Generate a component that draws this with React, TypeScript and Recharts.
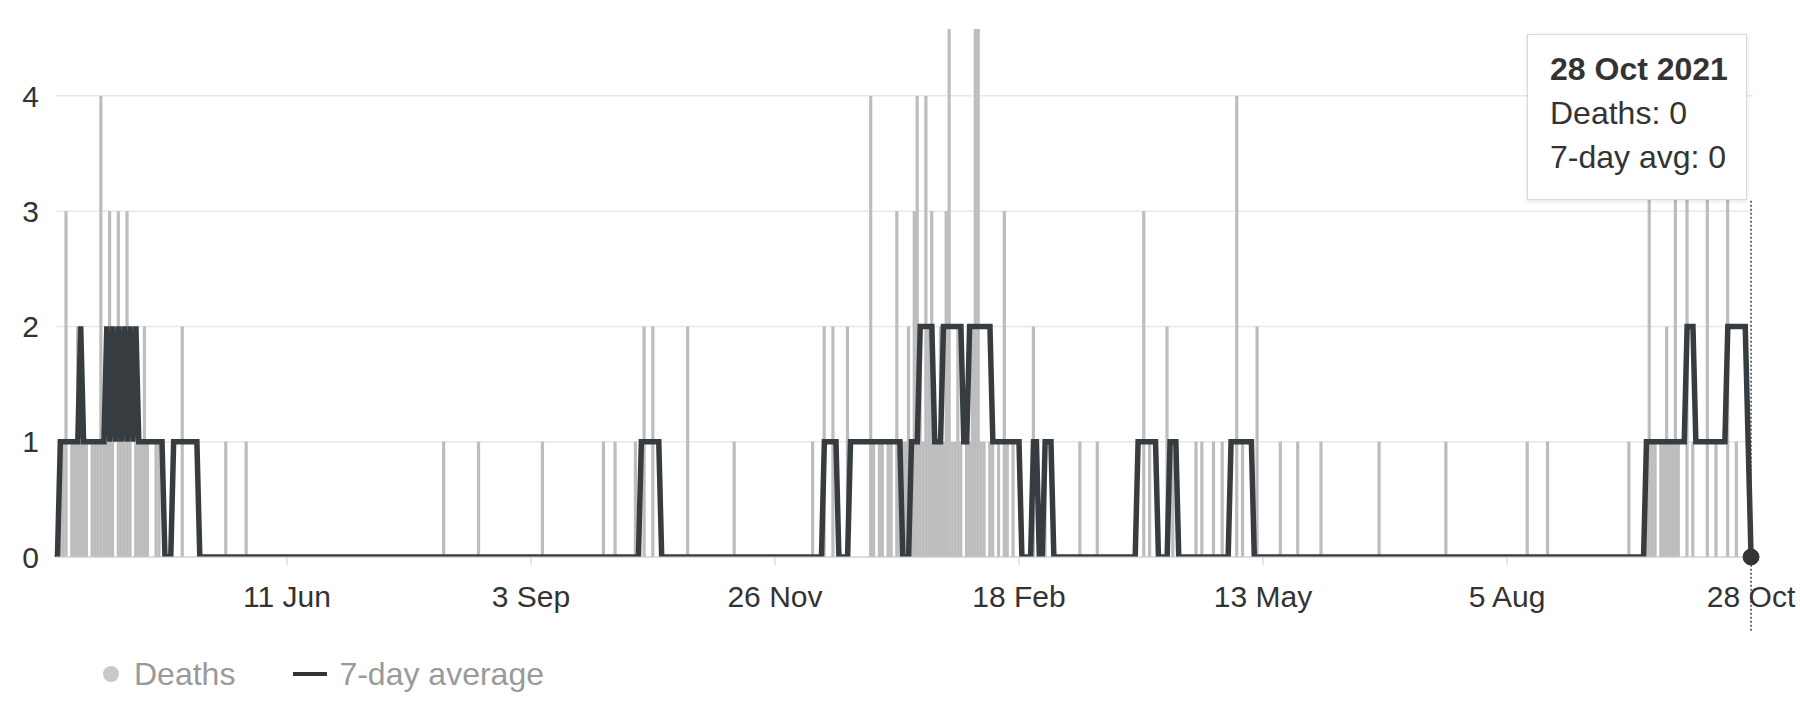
import React from "react";
import {
  ComposedChart, Bar, Line, XAxis, YAxis, CartesianGrid, Tooltip, ReferenceLine, ReferenceDot,
} from "recharts";

const START_DATE = "2020-03-24";
const END_DATE = "2021-10-28";

// days with deaths, every other day in the range is 0
const DEATHS: [string, number][] = [
  ["2020-03-25", 1], ["2020-03-26", 1], ["2020-03-27", 3], ["2020-03-29", 1], ["2020-03-30", 1], ["2020-03-31", 2],
  ["2020-04-01", 1], ["2020-04-02", 1], ["2020-04-03", 1], ["2020-04-05", 1], ["2020-04-06", 1], ["2020-04-07", 1],
  ["2020-04-08", 4], ["2020-04-09", 1], ["2020-04-10", 1], ["2020-04-11", 3], ["2020-04-12", 1], ["2020-04-14", 3],
  ["2020-04-15", 1], ["2020-04-16", 1], ["2020-04-17", 3], ["2020-04-18", 1], ["2020-04-20", 1], ["2020-04-21", 1],
  ["2020-04-22", 1], ["2020-04-23", 2], ["2020-04-24", 1], ["2020-04-27", 1], ["2020-04-28", 1],
  ["2020-05-06", 2], ["2020-05-21", 1], ["2020-05-28", 1],
  ["2020-08-04", 1], ["2020-08-16", 1],
  ["2020-09-07", 1], ["2020-09-28", 1],
  ["2020-10-02", 1], ["2020-10-09", 1], ["2020-10-12", 2], ["2020-10-15", 2], ["2020-10-27", 2],
  ["2020-11-12", 1],
  ["2020-12-09", 1], ["2020-12-13", 2], ["2020-12-16", 2], ["2020-12-21", 2], ["2020-12-29", 4], ["2020-12-30", 1],
  ["2021-01-01", 1], ["2021-01-02", 1], ["2021-01-04", 1], ["2021-01-05", 1], ["2021-01-07", 3], ["2021-01-08", 1],
  ["2021-01-09", 1], ["2021-01-10", 1], ["2021-01-11", 2], ["2021-01-12", 1], ["2021-01-13", 3], ["2021-01-14", 4],
  ["2021-01-15", 2], ["2021-01-16", 1], ["2021-01-17", 4], ["2021-01-18", 2], ["2021-01-19", 3], ["2021-01-20", 1],
  ["2021-01-21", 1], ["2021-01-22", 2], ["2021-01-23", 1], ["2021-01-24", 3], ["2021-01-25", 5], ["2021-01-26", 1],
  ["2021-01-27", 1], ["2021-01-28", 2], ["2021-01-29", 1], ["2021-01-31", 1],
  ["2021-02-01", 1], ["2021-02-02", 2], ["2021-02-03", 5], ["2021-02-04", 5], ["2021-02-05", 1], ["2021-02-06", 1],
  ["2021-02-08", 1], ["2021-02-09", 1], ["2021-02-11", 1], ["2021-02-13", 3], ["2021-02-14", 1], ["2021-02-16", 1],
  ["2021-02-23", 2], ["2021-02-27", 1],
  ["2021-03-11", 1], ["2021-03-17", 1],
  ["2021-04-02", 3], ["2021-04-04", 1], ["2021-04-10", 2], ["2021-04-12", 1], ["2021-04-20", 1], ["2021-04-22", 1],
  ["2021-04-26", 1], ["2021-04-29", 1],
  ["2021-05-04", 4], ["2021-05-06", 1], ["2021-05-11", 2], ["2021-05-19", 1], ["2021-05-25", 1],
  ["2021-06-02", 1], ["2021-06-22", 1],
  ["2021-07-15", 1],
  ["2021-08-12", 1], ["2021-08-19", 1],
  ["2021-09-16", 1], ["2021-09-22", 1], ["2021-09-23", 4], ["2021-09-24", 1], ["2021-09-25", 1], ["2021-09-27", 1],
  ["2021-09-28", 1], ["2021-09-29", 2], ["2021-09-30", 1],
  ["2021-10-01", 1], ["2021-10-02", 4], ["2021-10-03", 1], ["2021-10-06", 4], ["2021-10-08", 1], ["2021-10-13", 4],
  ["2021-10-16", 1], ["2021-10-20", 4], ["2021-10-23", 1],
];

// 7-day average as drawn (whole numbers); each value holds until the next entry
const AVG_CHANGES: [string, number][] = [
  ["2020-03-24", 0], ["2020-03-25", 1], ["2020-04-01", 2], ["2020-04-02", 1],
  ["2020-04-10", 2], ["2020-04-11", 1], ["2020-04-12", 2], ["2020-04-13", 1], ["2020-04-14", 2], ["2020-04-15", 1],
  ["2020-04-16", 2], ["2020-04-17", 1], ["2020-04-18", 2], ["2020-04-19", 1], ["2020-04-20", 2], ["2020-04-21", 1],
  ["2020-04-30", 0], ["2020-05-03", 1], ["2020-05-12", 0],
  ["2020-10-11", 1], ["2020-10-18", 0],
  ["2020-12-13", 1], ["2020-12-18", 0], ["2020-12-22", 1], ["2021-01-09", 0], ["2021-01-12", 1],
  ["2021-01-15", 2], ["2021-01-20", 1], ["2021-01-23", 2], ["2021-01-30", 1], ["2021-02-01", 2], ["2021-02-09", 1],
  ["2021-02-19", 0], ["2021-02-23", 1], ["2021-02-25", 0], ["2021-02-27", 1], ["2021-03-02", 0],
  ["2021-03-31", 1], ["2021-04-07", 0], ["2021-04-11", 1], ["2021-04-14", 0], ["2021-05-02", 1], ["2021-05-10", 0],
  ["2021-09-22", 1], ["2021-10-06", 2], ["2021-10-09", 1], ["2021-10-20", 2], ["2021-10-27", 1], ["2021-10-28", 0],
];

const X_TICKS = ["2020-06-11", "2020-09-03", "2020-11-26", "2021-02-18", "2021-05-13", "2021-08-05", "2021-10-28"];
const Y_TICKS = [0, 1, 2, 3, 4];
const MONTHS = ["Jan", "Feb", "Mar", "Apr", "May", "Jun", "Jul", "Aug", "Sep", "Oct", "Nov", "Dec"];

const FONT = '"Liberation Sans", Arial, Helvetica, sans-serif';

function buildData() {
  const deathMap = new Map(DEATHS);
  const rows: { date: string; deaths: number; avg: number }[] = [];
  const end = new Date(END_DATE + "T00:00:00Z").getTime();
  let t = new Date(START_DATE + "T00:00:00Z").getTime();
  let k = 0;
  let avg = 0;
  while (t <= end) {
    const date = new Date(t).toISOString().slice(0, 10);
    while (k < AVG_CHANGES.length && AVG_CHANGES[k][0] <= date) {
      avg = AVG_CHANGES[k][1];
      k++;
    }
    rows.push({ date, deaths: deathMap.get(date) ?? 0, avg });
    t += 86400000;
  }
  return rows;
}

const data = buildData();
const last = data[data.length - 1];

const shortDate = (d: string) => `${parseInt(d.slice(8, 10), 10)} ${MONTHS[parseInt(d.slice(5, 7), 10) - 1]}`;
const longDate = (d: string) => `${shortDate(d)} ${d.slice(0, 4)}`;

// bars are a touch wider than the day band, like the original
const ThinBar = (props: any) => {
  const { x, y, width, height, fill } = props;
  if (!height || height <= 0) return null;
  const w = Math.max(width, 3.2);
  return <rect x={x + width / 2 - w / 2} y={y} width={w} height={height} fill={fill} />;
};

const TipBox = ({ active, payload, label }: any) => {
  if (!active || !payload || !payload.length) return null;
  const row = payload[0].payload;
  return (
    <div style={{
      width: 220, boxSizing: "border-box", background: "#fff", border: "1px solid #d9d9d9",
      boxShadow: "0 1px 4px rgba(0,0,0,0.12)", padding: "12px 14px 20px 22px", whiteSpace: "nowrap",
      fontFamily: FONT, fontSize: 32, lineHeight: "44px", color: "#333",
    }}>
      <div style={{ fontWeight: 700 }}>{longDate(label)}</div>
      <div>Deaths: {row.deaths}</div>
      <div>7-day avg: {row.avg}</div>
    </div>
  );
};

export default function App() {
  return (
    <div style={{ position: "absolute", left: 0, top: 0, width: 1800, height: 723, background: "#fff", fontFamily: FONT }}>
      <ComposedChart
        width={1800}
        height={640}
        data={data}
        margin={{ top: 29, right: 47.5, bottom: 23, left: 0 }}
        barSize={3}
        barCategoryGap={0}
      >
        <CartesianGrid vertical={false} horizontalValues={Y_TICKS} stroke="#e8e8e8" strokeWidth={1.5} />
        <XAxis
          dataKey="date"
          ticks={X_TICKS}
          interval={0}
          tickFormatter={shortDate}
          height={60}
          tickSize={8}
          tickMargin={21}
          stroke="#cccccc"
          tick={{ fill: "#333", fontSize: 30, fontFamily: FONT }}
        />
        <YAxis
          domain={[0, 4.58]}
          ticks={Y_TICKS}
          allowDataOverflow
          width={56}
          axisLine={false}
          tickLine={false}
          tickSize={0}
          tickMargin={17}
          tick={{ fill: "#333", fontSize: 30, fontFamily: FONT }}
        />
        <Bar dataKey="deaths" name="Deaths" fill="#bdbdbd" shape={<ThinBar />} isAnimationActive={false} />
        <Line
          dataKey="avg"
          name="7-day average"
          type="linear"
          stroke="#373c41"
          strokeWidth={5.5}
          dot={false}
          activeDot={false}
          isAnimationActive={false}
        />
        <ReferenceLine
          segment={[{ x: END_DATE, y: 3.09 }, { x: END_DATE, y: -0.655 }]}
          stroke="#444"
          strokeWidth={1.5}
          strokeDasharray="2 2"
          ifOverflow="visible"
        />
        <ReferenceDot x={last.date} y={last.avg} r={8} fill="#333" stroke="#333" strokeWidth={1} ifOverflow="visible" />
        <Tooltip
          content={<TipBox />}
          defaultIndex={data.length - 1}
          active
          position={{ x: 1527, y: 34 }}
          cursor={false}
          isAnimationActive={false}
          wrapperStyle={{ outline: "none" }}
        />
      </ComposedChart>

      {/* legend */}
      <div style={{ position: "absolute", left: 103, top: 655, height: 38, display: "flex", alignItems: "center", fontSize: 32, color: "#9a9a9a" }}>
        <span style={{ width: 16, height: 16, borderRadius: 8, background: "#c8c8c8", display: "inline-block", marginRight: 15 }} />
        <span>Deaths</span>
        <span style={{ width: 34, height: 4, background: "#333", display: "inline-block", marginLeft: 58, marginRight: 12 }} />
        <span>7-day average</span>
      </div>
    </div>
  );
}
